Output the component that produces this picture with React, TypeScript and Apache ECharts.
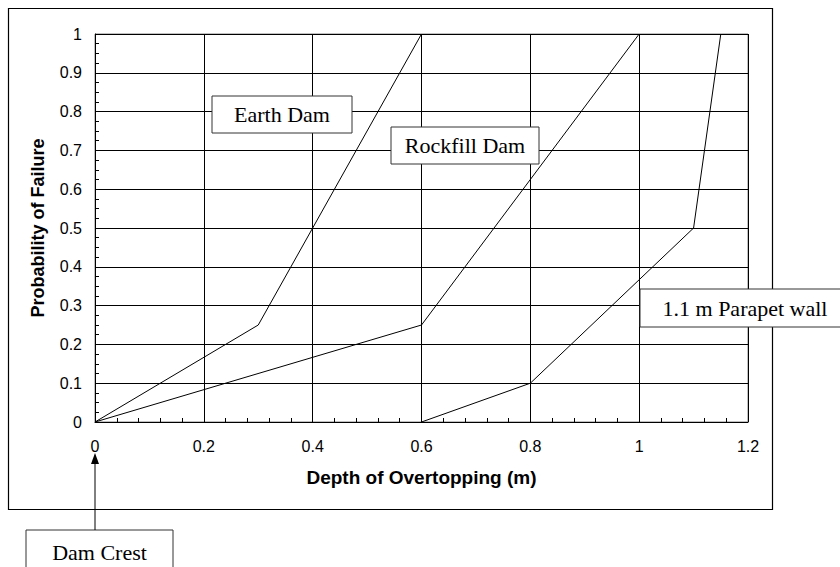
import React, { useEffect, useRef } from "react";
import * as echarts from "echarts";

const earthDam: [number, number][] = [[0, 0], [0.3, 0.25], [0.6, 1]];
const rockfillDam: [number, number][] = [[0, 0], [0.6, 0.25], [1, 1]];
const parapetWall: [number, number][] = [[0.6, 0], [0.8, 0.1], [1.1, 0.5], [1.15, 1]];
const seriesNames = ["Earth Dam", "Rockfill Dam", "1.1 m Parapet wall"];
const xTitle = "Depth of Overtopping (m)";
const yTitle = "Probability of Failure";
const crestLabel = "Dam Crest";

function labelBox(x: number, y: number, w: number, h: number, text: string) {
  return {
    type: "group",
    children: [
      {
        type: "rect",
        shape: { x, y, width: w, height: h },
        style: { fill: "#fff", stroke: "#333", lineWidth: 1 },
        z: 10,
      },
      {
        type: "text",
        x: x + w / 2,
        y: y + h / 2,
        style: {
          text,
          fill: "#000",
          font: '22px "Liberation Serif", "Times New Roman", serif',
          align: "center",
          verticalAlign: "middle",
        },
        z: 11,
      },
    ],
  };
}

export default function App() {
  const ref = useRef<HTMLDivElement>(null);
  useEffect(() => {
    document.body.style.margin = "0";
    if (!ref.current) return;
    const chart = echarts.init(ref.current, undefined, { renderer: "svg" });
    const lineStyle = { color: "#000", width: 1 };
    const fam = "Liberation Sans";
    const lbl = {
      show: true,
      fontFamily: fam,
      fontSize: 16,
      color: "#000",
      textStyle: { fontFamily: fam, fontSize: 16, color: "#000" },
    };
    chart.setOption({
      animation: false,
      backgroundColor: "#fff",
      grid: {
        left: 95,
        top: 34,
        right: 92,
        bottom: 145,
        show: true,
        borderColor: "#808080",
        borderWidth: 1,
      },
      xAxis: {
        type: "value",
        min: 0,
        max: 1.2,
        interval: 0.2,
        name: xTitle,
        nameLocation: "middle",
        nameGap: 46,
        nameTextStyle: { fontFamily: fam, fontWeight: "bold", fontSize: 19, color: "#000" },
        axisLine: { show: true, lineStyle: { color: "#000", width: 1 } },
        axisTick: { show: true, inside: true, length: 5, lineStyle: { color: "#000" } },
        minorTick: { show: true, splitNumber: 5, length: 4, lineStyle: { color: "#000" } },
        axisLabel: { ...lbl, margin: 16 },
        splitLine: { show: true, lineStyle: { color: "#000", width: 1 } },
      },
      yAxis: {
        type: "value",
        min: 0,
        max: 1,
        interval: 0.1,
        name: yTitle,
        nameLocation: "middle",
        nameGap: 48,
        nameTextStyle: { fontFamily: fam, fontWeight: "bold", fontSize: 18, color: "#000" },
        axisLine: { show: true, lineStyle: { color: "#000", width: 1 } },
        axisTick: { show: true, inside: true, length: 5, lineStyle: { color: "#000" } },
        minorTick: { show: true, splitNumber: 4, length: 4, lineStyle: { color: "#000" } },
        axisLabel: { ...lbl, margin: 13 },
        splitLine: { show: true, lineStyle: { color: "#000", width: 1 } },
      },
      series: [
        { name: seriesNames[0], type: "line", data: earthDam, showSymbol: false, lineStyle, itemStyle: { color: "#000" } },
        { name: seriesNames[1], type: "line", data: rockfillDam, showSymbol: false, lineStyle, itemStyle: { color: "#000" } },
        { name: seriesNames[2], type: "line", data: parapetWall, showSymbol: false, lineStyle, itemStyle: { color: "#000" } },
      ],
      graphic: [
        {
          type: "rect",
          shape: { x: 8.5, y: 8.5, width: 764, height: 501 },
          style: { fill: "none", stroke: "#000", lineWidth: 1.2 },
          silent: true,
          z: 1,
        },
        labelBox(212, 96, 140, 37, seriesNames[0]),
        labelBox(391, 127, 148, 37, seriesNames[1]),
        labelBox(640, 289, 210, 38, seriesNames[2]),
        labelBox(26, 530, 147, 44, crestLabel),
        {
          type: "line",
          shape: { x1: 95, y1: 530, x2: 95, y2: 460 },
          style: { stroke: "#000", lineWidth: 1 },
          z: 10,
        },
        {
          type: "polygon",
          shape: { points: [[95, 453], [91, 464], [99, 464]] },
          style: { fill: "#000" },
          z: 10,
        },
      ],
    });
    return () => chart.dispose();
  }, []);
  return <div ref={ref} style={{ width: 840, height: 567 }} />;
}
